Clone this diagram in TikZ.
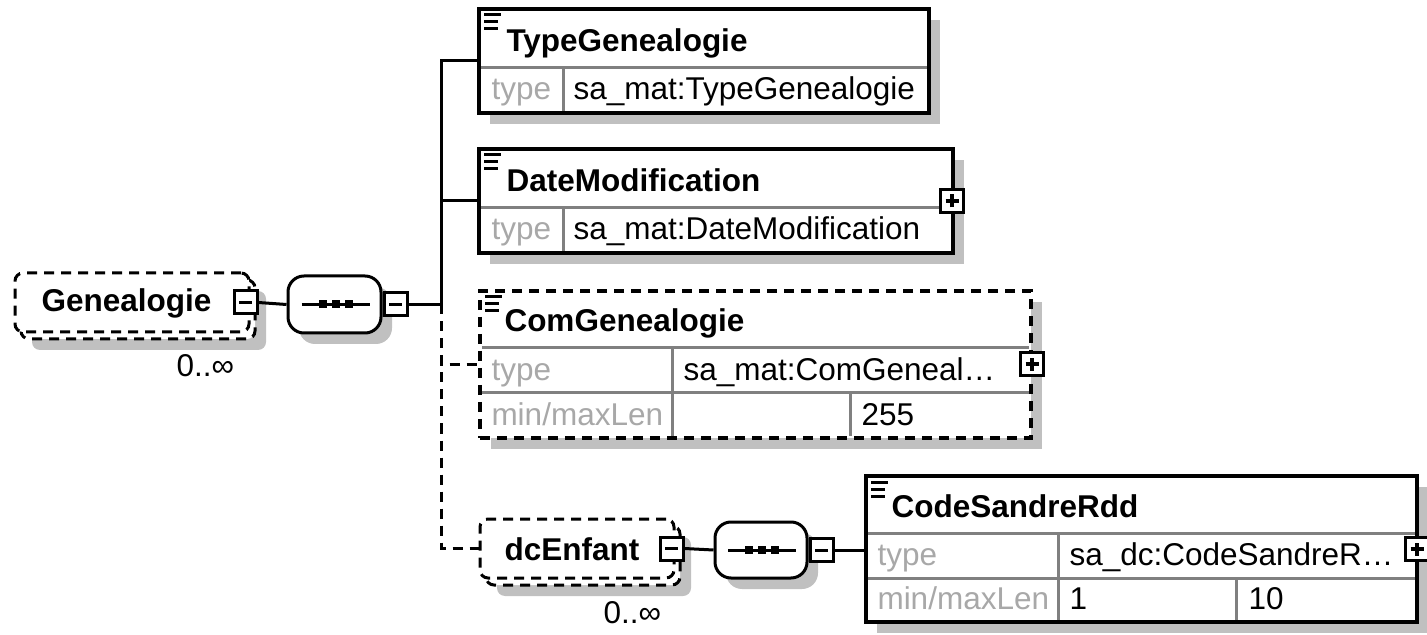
\documentclass[tikz,border=0pt]{standalone}
\usepackage{fontspec}
\setmainfont{Liberation Sans}
\usetikzlibrary{shadows}
\definecolor{shadowgray}{HTML}{C0C0C0}
\definecolor{rulegray}{HTML}{808080}
\definecolor{labelgray}{HTML}{A8A8A8}
\tikzset{every picture/.style={line width=1.5pt}}
\tikzset{
  boxshadow/.style={general shadow={fill=shadowgray,shadow xshift=5.5pt,shadow yshift=-5.5pt}},
  optline/.style={dash pattern=on 5pt off 3.5pt},
  elembox/.style={draw,line width=2pt,fill=white,inner sep=0pt,boxshadow},
  multbox/.style={rectangle,rounded corners=4pt,draw,fill=white,inner sep=0pt,optline,minimum height=29.5pt},
  seqbox/.style={rectangle,rounded corners=8pt,draw,fill=white,inner sep=0pt,
    minimum width=46.5pt,minimum height=28.5pt,boxshadow},
  btn/.style={draw,fill=white,rectangle,inner sep=0pt,minimum size=11.5pt},
  minusbtn/.style={btn,path picture={\draw[line width=1.5pt]
    ([xshift=-3.25pt]path picture bounding box.center) -- ([xshift=3.25pt]path picture bounding box.center);}},
  plusbtn/.style={btn,path picture={\draw[line width=2pt]
    ([xshift=-3.25pt]path picture bounding box.center) -- ([xshift=3.25pt]path picture bounding box.center)
    ([yshift=-3.25pt]path picture bounding box.center) -- ([yshift=3.25pt]path picture bounding box.center);}},
  namelbl/.style={anchor=base west,inner sep=0pt,font=\bfseries\fontsize{15.75}{18}\selectfont},
  keylbl/.style={anchor=base west,inner sep=0pt,text=labelgray,font=\fontsize{15.75}{18}\selectfont},
  vallbl/.style={anchor=base west,inner sep=0pt,font=\fontsize{15.75}{18}\selectfont},
  rowline/.style={draw=rulegray,line width=1.5pt},
  docicon/.pic={\draw (7,8) -- ++(17,0) (7,15) -- ++(14,0) (7,22) -- ++(14,0);},
  seqicon/.pic={\draw (-33,0) -- (35,0);
    \foreach \s in {-12,1,14} \fill (\s-4,-4) rectangle (\s+4,4);}
}
\begin{document}
\begin{tikzpicture}[x=0.5pt,y=-0.5pt]
\useasboundingbox (0,0) rectangle (1427,635);

% root element and its sequence
\node[multbox,minimum width=117pt,boxshadow] (gen-back) at (138,309.5) {};
\node[multbox,minimum width=117pt] (gen) at (132,302.5) {};
\node[namelbl] (gen-name) at (40,312) {Genealogie};
\node[minusbtn] (gen-btn) at ([xshift=-2.5pt]gen.east) {};
\node[vallbl] (gen-occ) at (175,377) {0..∞};

\node[seqbox] (seq) at (334.5,304.5) {};
\pic at (seq.center) {seqicon};
\node[minusbtn,anchor=west] (seq-btn) at (seq.east) {};
\coordinate (bus) at ([xshift=16.5pt]seq-btn.east);

% TypeGenealogie
\node[elembox,minimum width=225pt,minimum height=52pt] (typegen) at (704,61) {};
\pic at (typegen.north west) {docicon};
\draw[rowline] (481,68) -- (927,68) (563,68) -- (563,111);
\node[namelbl] (typegen-name) at (505,52) {TypeGenealogie};
\node[keylbl] (typegen-key) at (490,100) {type};
\node[vallbl] (typegen-val) at (572,100) {sa\_mat:TypeGenealogie};

% DateModification
\node[elembox,minimum width=237pt,minimum height=52pt] (datemod) at (716,201) {};
\pic at (datemod.north west) {docicon};
\draw[rowline] (481,208) -- (951,208) (563,208) -- (563,251);
\node[namelbl] (datemod-name) at (505,192) {DateModification};
\node[keylbl] (datemod-key) at (490,240) {type};
\node[vallbl] (datemod-val) at (572,240) {sa\_mat:DateModification};
\node[plusbtn] (datemod-btn) at ([xshift=-1.5pt]datemod.east) {};

% ComGenealogie
\node[elembox,optline,minimum width=275.5pt,minimum height=73.5pt] (comgen) at (755.5,364.5) {};
\pic at (comgen.north west) {docicon};
\draw[rowline] (482,348) -- (1029,348) (482,393) -- (1029,393)
  (672,348) -- (672,436) (850,393) -- (850,436);
\node[namelbl] (comgen-name) at (503,332) {ComGenealogie};
\node[keylbl] (comgen-key) at (490,380) {type};
\node[vallbl] (comgen-val) at (682,380) {sa\_mat:ComGeneal…};
\node[keylbl] (comgen-lenkey) at (490,425) {min/maxLen};
\node[vallbl] (comgen-max) at (860,425) {255};
\node[plusbtn] (comgen-btn) at ([xshift=-0.5pt]comgen.east) {};

% dcEnfant and its sequence
\node[multbox,minimum width=97pt,boxshadow] (dcenf-back) at (583,555.5) {};
\node[multbox,minimum width=97pt] (dcenf) at (577,548.5) {};
\node[namelbl] (dcenf-name) at (503,560) {dcEnfant};
\node[minusbtn] (dcenf-btn) at ([xshift=-2pt]dcenf.east) {};
\node[vallbl] (dcenf-occ) at (602,623) {0..∞};

\node[seqbox,minimum width=46pt,minimum height=28pt] (seq2) at (761,550) {};
\pic at (seq2.center) {seqicon};
\node[minusbtn,anchor=west] (seq2-btn) at (seq2.east) {};

% CodeSandreRdd
\node[elembox,minimum width=275.5pt,minimum height=73pt] (code) at (1141.5,549) {};
\pic at (code.north west) {docicon};
\draw[rowline] (868,533) -- (1415,533) (868,578) -- (1415,578)
  (1058,533) -- (1058,620) (1236,578) -- (1236,620);
\node[namelbl] (code-name) at (890,517) {CodeSandreRdd};
\node[keylbl] (code-key) at (876,565) {type};
\node[vallbl] (code-val) at (1068,565) {sa\_dc:CodeSandreR…};
\node[keylbl] (code-lenkey) at (876,609) {min/maxLen};
\node[vallbl] (code-min) at (1068,609) {1};
\node[vallbl] (code-max) at (1247,609) {10};
\node[plusbtn] (code-btn) at ([xshift=-1pt]code.east) {};

% connectors
\draw (gen-btn.east) -- (seq.west);
\draw (seq-btn.east) -- (bus);
\draw (bus) |- (typegen.west);
\draw (bus) |- (datemod.west);
\draw[optline] (bus) |- (comgen.west);
\draw[optline] (bus) |- (dcenf.west);
\draw (dcenf-btn.east) -- (seq2.west);
\draw (seq2-btn.east) -- (seq2-btn.east -| code.west);
\end{tikzpicture}
\end{document}
